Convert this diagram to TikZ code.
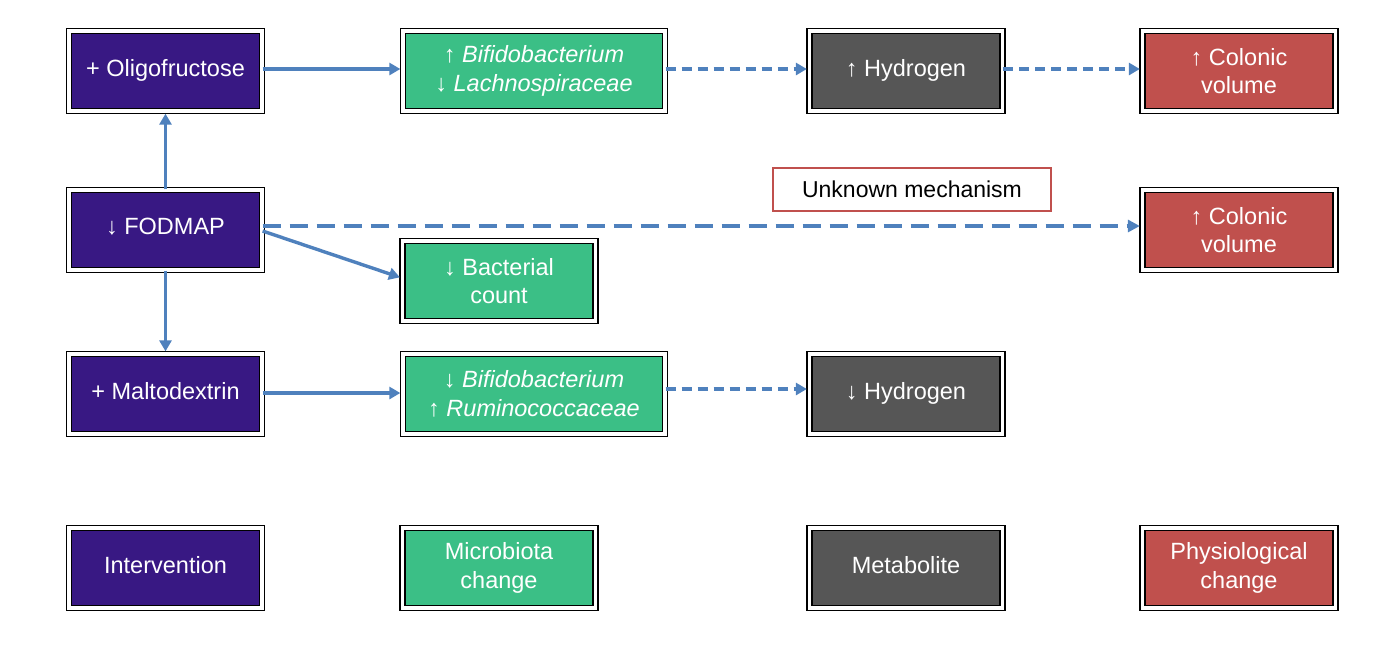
\documentclass[tikz,border=0pt]{standalone}
\usepackage{fontspec}
\setmainfont{Liberation Sans}
\usetikzlibrary{arrows.meta}
\definecolor{cpurple}{HTML}{381883}
\definecolor{cgreen}{HTML}{3BBF86}
\definecolor{cgray}{HTML}{565656}
\definecolor{cred}{HTML}{C0504D}
\definecolor{cblue}{HTML}{4F81BD}
\tikzset{
  boxbase/.style={draw=black, line width=1.3pt, double=white, double distance=3.5pt,
    minimum width=193pt, minimum height=80pt, inner sep=0pt, text=white, align=center,
    font=\fontsize{23.5}{28.5}\selectfont},
  oneline/.style={text depth=7pt},
  wide/.style={minimum width=262pt},
  interv/.style={boxbase, fill=cpurple},
  micro/.style={boxbase, fill=cgreen},
  metab/.style={boxbase, fill=cgray},
  physio/.style={boxbase, fill=cred},
  solidarrow/.style={draw=cblue, line width=3.4pt, -{Triangle[length=11pt,width=12pt]}, shorten >=2pt},
  dasharrow/.style={draw=cblue, line width=3.4pt, dash pattern=on 10pt off 6pt, -{Triangle[length=11pt,width=12pt]}, shorten >=2pt},
  longdash/.style={draw=cblue, line width=4pt, dash pattern=on 18pt off 9pt, -{Triangle[length=12pt,width=12pt]}, shorten >=2pt},
  notebox/.style={draw=cred, line width=2.5pt, fill=white, minimum width=278pt, minimum height=43pt,
    inner sep=0pt, text=black, font=\fontsize{23}{28}\selectfont}
}
\begin{document}
\begin{tikzpicture}[x=1pt,y=-1pt]
\useasboundingbox (0,0) rectangle (1388,654);
% row 1
\node[interv,oneline] (oligo) at (165.5,71) {+ Oligofructose};
\node[micro,wide] (bif1) at (534,71) {↑ \textit{Bifidobacterium}\\↓ \textit{Lachnospiraceae}};
\node[metab,oneline] (hyd1) at (906,71) {↑ Hydrogen};
\node[physio] (col1) at (1239,71) {↑ Colonic\\volume};
% row 2
\node[interv,oneline] (fod) at (165.5,230) {↓ FODMAP};
\node[physio] (col2) at (1239,230) {↑ Colonic\\volume};
\node[notebox] (unk) at (912,189.5) {Unknown mechanism};
\node[micro] (bact) at (499,281) {↓ Bacterial\\count};
% row 3
\node[interv,oneline] (malt) at (165.5,394) {+ Maltodextrin};
\node[micro,wide] (bif2) at (534,394) {↓ \textit{Bifidobacterium}\\↑ \textit{Ruminococcaceae}};
\node[metab,oneline] (hyd2) at (906,394) {↓ Hydrogen};
% legend
\node[interv,oneline] (lint) at (165.5,568) {Intervention};
\node[micro] (lmic) at (499,568) {Microbiota\\change};
\node[metab,oneline] (lmet) at (906,568) {Metabolite};
\node[physio] (lphy) at (1239,568) {Physiological\\change};
% connectors
\draw[solidarrow] ([yshift=2pt]oligo.east) -- ([yshift=2pt]bif1.west);
\draw[dasharrow] ([yshift=2pt]bif1.east) -- ([yshift=2pt]hyd1.west);
\draw[dasharrow] ([yshift=2pt]hyd1.east) -- ([yshift=2pt]col1.west);
\draw[solidarrow] (fod.north) -- (oligo.south);
\draw[solidarrow] (fod.south) -- (malt.north);
\draw[longdash] ([yshift=4pt]fod.east) -- ([yshift=4pt]col2.west);
\draw[solidarrow] ([yshift=-1pt]fod.east) -- ([yshift=3pt]bact.west);
\draw[solidarrow] ([yshift=1pt]malt.east) -- ([yshift=1pt]bif2.west);
\draw[dasharrow] ([yshift=5pt]bif2.east) -- ([yshift=5pt]hyd2.west);
\end{tikzpicture}
\end{document}
